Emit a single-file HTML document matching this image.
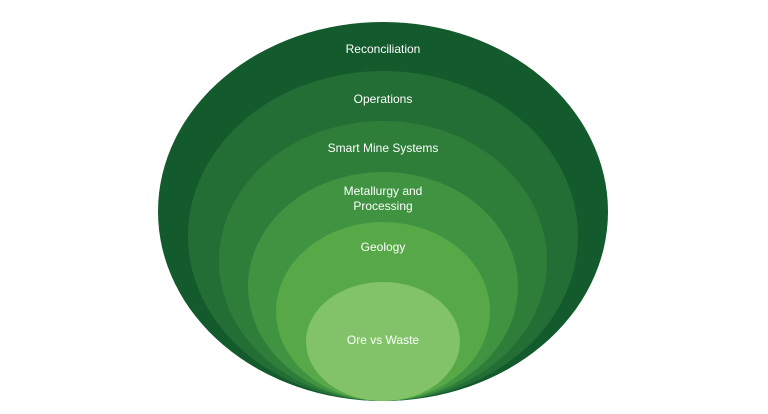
<!DOCTYPE html>
<html><head><style>
html,body{margin:0;padding:0;background:#fff;width:768px;height:414px;overflow:hidden}
svg text{font-family:"Liberation Sans",sans-serif;font-size:12px;fill:#fff;text-anchor:middle}
</style></head><body>
<svg width="768" height="414" viewBox="0 0 768 414">
<ellipse cx="383" cy="211.5" rx="225" ry="189.5" fill="#135a2d"/>
<ellipse cx="383" cy="236" rx="195" ry="165" fill="#226e35"/>
<ellipse cx="383" cy="261" rx="164" ry="140" fill="#2e7e3a"/>
<ellipse cx="383" cy="286.5" rx="135" ry="114.5" fill="#3f9341"/>
<ellipse cx="383" cy="311.5" rx="107" ry="89.5" fill="#57a947"/>
<ellipse cx="383" cy="341.5" rx="77" ry="59.5" fill="#82c36a"/>
<text x="383" y="53">Reconciliation</text>
<text x="383" y="103">Operations</text>
<text x="383" y="152">Smart Mine Systems</text>
<text x="383" y="195">Metallurgy and</text>
<text x="383" y="210">Processing</text>
<text x="383" y="251">Geology</text>
<text x="383" y="344">Ore vs Waste</text>
</svg>
</body></html>
